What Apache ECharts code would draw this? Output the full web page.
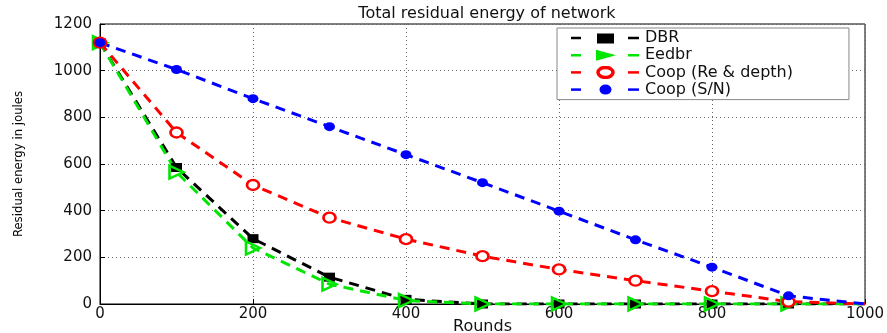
<!DOCTYPE html>
<html>
<head>
<meta charset="utf-8">
<script src="https://cdn.jsdelivr.net/npm/echarts@6/dist/echarts.min.js"></script>
<style>
  html, body { margin: 0; padding: 0; background: #fff; }
  #chart { width: 887px; height: 333px; }
</style>
</head>
<body>
<div id="chart"></div>
<script>
const rounds = [0, 100, 200, 300, 400, 500, 600, 700, 800, 900, 1000];
const dbr = [1120, 585, 280, 115, 20, 0, 0, 0, 0, 0, 0];
const eedbr = [1120, 565, 240, 85, 15, 0, 0, 0, 0, 0, 0];
const coopRe = [1120, 735, 510, 370, 278, 205, 148, 100, 55, 10, 0];
const coopSN = [1120, 1005, 880, 760, 640, 520, 398, 275, 158, 35, 0];
const seriesNames = ['DBR', 'Eedbr', 'Coop (Re & depth)', 'Coop (S/N)'];

const chart = echarts.init(document.getElementById('chart'));

const wideFont = 'DejaVu Sans';
const tickFont = { color: '#111', fontSize: 15, fontFamily: wideFont };
const gridLine = { lineStyle: { color: '#666', type: [1, 3], width: 1 } };

// legend key like matlab: dash, marker, dash
function legendIcon(color, marker) {
  const svg = "<svg xmlns='http://www.w3.org/2000/svg' width='69' height='13' viewBox='0 0 69 13'>" +
    "<line x1='0' y1='6.5' x2='10' y2='6.5' stroke='" + color + "' stroke-width='2.5'/>" +
    "<line x1='57' y1='6.5' x2='68' y2='6.5' stroke='" + color + "' stroke-width='2.5'/>" +
    marker + "</svg>";
  return 'image://data:image/svg+xml;charset=utf-8,' + encodeURIComponent(svg);
}
const legendIcons = [
  legendIcon('#000', "<rect x='26' y='2' width='17' height='10' fill='#000'/>"),
  legendIcon('#00e600', "<polygon points='25,1 45,6.5 25,12' fill='#00e600'/>"),
  legendIcon('#f00', "<ellipse cx='34.5' cy='6.5' rx='7.5' ry='5' fill='none' stroke='#f00' stroke-width='3.5'/>"),
  legendIcon('#00f', "<ellipse cx='34.5' cy='6.5' rx='6' ry='5' fill='#00f'/>")
];

// last point (1000) draws no marker, the line just runs to the axis end
function pts(values) {
  return values.map((v, i) => i === values.length - 1 ? { value: [rounds[i], v], symbol: 'none' } : [rounds[i], v]);
}

function makeSeries(name, values, color, symbol, extra) {
  return Object.assign({
    name: name,
    type: 'line',
    data: pts(values),
    symbol: symbol,
    lineStyle: { color: color, width: 3, type: [10, 7] },
    itemStyle: { color: color },
    z: 3
  }, extra);
}

const option = {
  animation: false,
  title: {
    text: 'Total residual energy of network',
    left: 482, top: 1, textAlign: 'center',
    textStyle: { fontSize: 16, fontWeight: 'normal', color: '#111', fontFamily: wideFont }
  },
  legend: {
    left: 557, top: 28,
    orient: 'vertical',
    backgroundColor: '#fff',
    borderColor: '#888',
    borderWidth: 1,
    padding: [2, 56, 2, 14],
    itemGap: 1.2,
    itemWidth: 69,
    itemHeight: 13,
    textStyle: { fontSize: 16, lineHeight: 13, color: '#111', fontFamily: wideFont },
    data: seriesNames.map((n, i) => ({ name: n, icon: legendIcons[i] }))
  },
  grid: {
    left: 100, right: 22, top: 24, bottom: 29,
    outerBoundsMode: 'none', containLabel: false,
    show: true, borderColor: '#000', borderWidth: 1
  },
  xAxis: {
    type: 'value', min: 0, max: 1000, interval: 200,
    name: 'Rounds', nameLocation: 'middle', nameGap: 15, nameMoveOverlap: false,
    nameTextStyle: { fontSize: 16, color: '#111', fontFamily: wideFont },
    axisLine: { lineStyle: { color: '#000' } },
    axisTick: { show: true, inside: true, length: 5, lineStyle: { color: '#000' } },
    axisLabel: Object.assign({ margin: 3, formatter: v => String(v) }, tickFont),
    splitLine: gridLine
  },
  yAxis: {
    type: 'value', min: 0, max: 1200, interval: 200,
    name: 'Residual energy in joules', nameLocation: 'middle', nameGap: 75, nameMoveOverlap: false,
    nameTextStyle: { fontSize: 13, color: '#000', fontFamily: 'DejaVu Sans Condensed, Liberation Sans Narrow, sans-serif' },
    axisLine: { lineStyle: { color: '#000' } },
    axisTick: { show: true, inside: true, length: 5, lineStyle: { color: '#000' } },
    axisLabel: Object.assign({ margin: 8, formatter: v => String(v) }, tickFont),
    splitLine: gridLine
  },
  series: [
    makeSeries(seriesNames[0], dbr, '#000000', 'rect', { symbolSize: [11, 9] }),
    makeSeries(seriesNames[1], eedbr, '#00e600', 'triangle', {
      symbolSize: [13, 14], symbolRotate: -90,
      itemStyle: { color: 'rgba(0,0,0,0)', borderColor: '#00e600', borderWidth: 2.5 }
    }),
    makeSeries(seriesNames[2], coopRe, '#ff0000', 'circle', {
      symbolSize: [12, 10],
      itemStyle: { color: '#fff', borderColor: '#ff0000', borderWidth: 2.5 }
    }),
    makeSeries(seriesNames[3], coopSN, '#0000ff', 'circle', { symbolSize: [11, 9] })
  ]
};

chart.setOption(option);
</script>
</body>
</html>
